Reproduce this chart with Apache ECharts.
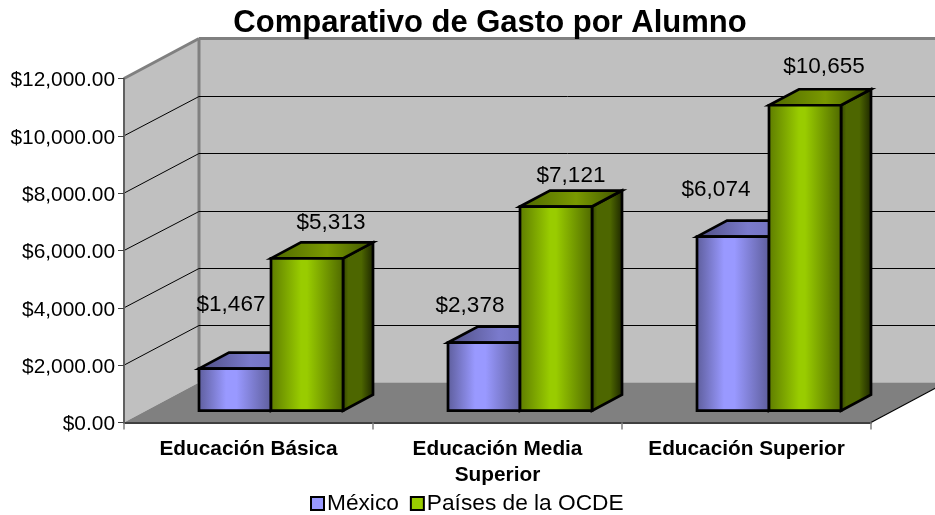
<!DOCTYPE html>
<html><head><meta charset="utf-8">
<style>html,body{margin:0;padding:0;background:#fff}#c{width:935px;height:515px}</style>
<script src="https://cdn.jsdelivr.net/npm/echarts@6/dist/echarts.min.js"></script>
</head><body><div id="c"></div>
<script>
const categories = ['Educación Básica', 'Educación Media\nSuperior', 'Educación Superior'];
const mexico = [1467, 2378, 6074];
const ocde = [5313, 7121, 10655];
const yTicks = [0, 2000, 4000, 6000, 8000, 10000, 12000];

// 3D projection and label placement
const WALL = [75, -40], FRONT = [22.5, -11.8], DEPTH = [30, -16];
const BAR_W = 72;
const NUDGE_MX = [[-4, -64], [-14, -37], [-17, -47]];
const NUDGE_OC = [[24, -36], [15, -31], [19, -38]];

const grad = (stops) => ({type:'linear',x:0,y:0,x2:1,y2:0,colorStops:stops.map(([offset,color])=>({offset,color}))});
const PAL = {
  mx: {front: grad([[0,'#5c5c99'],[0.38,'#9999ff'],[0.52,'#9999ff'],[1,'#5c5c99']]), top: grad([[0,'#4d4d80'],[0.5,'#7a7acc'],[1,'#6b6bb3']]), side: grad([[0,'#33334d'],[0.2,'#4d4d80'],[0.6,'#4d4d80'],[1,'#1a1a2b']])},
  oc: {front: grad([[0,'#5c7a00'],[0.42,'#99cc00'],[0.5,'#99cc00'],[1,'#4d6600']]), top: grad([[0,'#4d6600'],[0.55,'#7a9900'],[1,'#3d5200']]), side: grad([[0,'#2e3d00'],[0.2,'#4d6600'],[0.6,'#4d6600'],[1,'#1a2200']])}
};
const poly = (pts, style, z2) => ({type:'polygon', shape:{points:pts}, style, z2});
const line = (a, b, stroke, w) => ({type:'line', shape:{x1:a[0],y1:a[1],x2:b[0],y2:b[1]}, style:{stroke,lineWidth:w}});

function renderWalls(p, api) {
  const band = api.size([1,0])[0];
  const [lx, by] = api.coord([0, 0]); const L = lx - band/2;
  const R = api.coord([2, 0])[0] + band/2;
  const ty = api.coord([0, 12000])[1];
  const g = '#808080';
  return {type:'group', children:[
    poly([[L+WALL[0],ty+WALL[1]],[R+WALL[0],ty+WALL[1]],[R+WALL[0],by+WALL[1]],[L+WALL[0],by+WALL[1]]], {fill:'#c0c0c0'}),
    poly([[L,ty],[L+WALL[0],ty+WALL[1]],[L+WALL[0],by+WALL[1]],[L,by]], {fill:'#c0c0c0'}),
    poly([[L,by],[R,by],[R+WALL[0],by+WALL[1]],[L+WALL[0],by+WALL[1]]], {fill:'#808080'}),
    line([L,ty],[L+WALL[0],ty+WALL[1]], g, 3),
    line([L+WALL[0],ty+WALL[1]],[R+WALL[0],ty+WALL[1]], g, 3),
    line([L+WALL[0],ty+WALL[1]],[L+WALL[0],by+WALL[1]], g, 3),
    line([R,by],[R+WALL[0],by+WALL[1]], '#000', 1.2)
  ]};
}
function renderGrid(p, api) {
  const v = api.value(0);
  if (v === 0 || v === 12000) return null;
  const band = api.size([1,0])[0];
  const [lx, y] = api.coord([0, v]); const L = lx - band/2;
  const R = api.coord([2, v])[0] + band/2;
  const yy = Math.round(y + WALL[1]) + 0.5;
  return {type:'group', children:[
    line([L, y],[L+WALL[0], yy], '#000', 1),
    line([L+WALL[0], yy],[R+WALL[0], yy], '#000', 1)
  ]};
}
function makeBar(pal, side, nudges) {
  return function (p, api) {
    const i = api.value(0), v = api.value(1);
    const [cx, y] = api.coord([i, v]);
    const y0 = api.coord([i, 0])[1];
    const x1 = cx + FRONT[0] + (side < 0 ? -BAR_W : 0), x2 = x1 + BAR_W;
    const top = y + FRONT[1], bot = y0 + FRONT[1];
    const s = {stroke:'#000', lineWidth:2.7, lineJoin:'miter'};
    const dx = DEPTH[0], dy = DEPTH[1];
    return {type:'group', children:[
      poly([[x2,top],[x2+dx,top+dy],[x2+dx,bot+dy],[x2,bot]], {...s, fill:pal.side}),
      poly([[x1,top],[x1+dx,top+dy],[x2+dx,top+dy],[x2,top]], {...s, fill:pal.top}),
      poly([[x1,top],[x2,top],[x2,bot],[x1,bot]], {...s, fill:pal.front}),
      {type:'text', z2:50, style:{
        text:'$'+v.toLocaleString('en-US'),
        x:(x1+x2)/2+nudges[i][0], y:top+nudges[i][1],
        fill:'#000', font:'22.5px "Liberation Sans"', textAlign:'center', textVerticalAlign:'middle'
      }}
    ]};
  };
}
const chart = echarts.init(document.getElementById('c'));
chart.setOption({
  animation:false,
  textStyle:{fontFamily:'"Liberation Sans"'},
  title:{text:'Comparativo de Gasto por Alumno', left:485, top:3, textAlign:'center',
    textStyle:{fontFamily:'"Liberation Sans"',fontSize:31,fontWeight:'bold',color:'#000'}},
  legend:{data:[{name:'México'},{name:'Países de la OCDE'}], left:305, top:487, icon:'rect',
    itemWidth:13, itemHeight:13, itemGap:11,
    itemStyle:{borderColor:'#000',borderWidth:2},
    textStyle:{fontFamily:'"Liberation Sans"',fontSize:22.7,color:'#000',padding:[0,0,0,-2]}},
  grid:{left:124, right:64, top:78.5, bottom:92.5},
  xAxis:{type:'category', data:categories, z:5,
    axisLine:{lineStyle:{color:'#404040',width:2}},
    axisTick:{show:true,alignWithLabel:false,length:7,lineStyle:{color:'#808080',width:1.5}},
    axisLabel:{fontFamily:'"Liberation Sans"',fontSize:20.8,fontWeight:'bold',color:'#000',margin:14,lineHeight:26,interval:0}},
  yAxis:{type:'value', min:0, max:12000, interval:2000, z:5,
    axisLine:{show:true,lineStyle:{color:'#606060',width:2}},
    axisTick:{show:true,length:6,lineStyle:{color:'#404040',width:1}},
    splitLine:{show:false},
    axisLabel:{fontFamily:'"Liberation Sans"',fontSize:20.9,color:'#000',margin:9,padding:[4,0,0,0],verticalAlign:'middle',lineHeight:21,
      rich:{},
      formatter:v=>'$'+v.toLocaleString('en-US',{minimumFractionDigits:2,maximumFractionDigits:2})}},
  series:[
    {type:'custom', name:'walls', z:1, silent:true, renderItem:renderWalls, data:[[0]]},
    {type:'custom', name:'gridlines', z:1, silent:true, renderItem:renderGrid, data:yTicks.map(v=>[v]), encode:{x:[],y:[]}},
    {type:'custom', name:'México', z:2, renderItem:makeBar(PAL.mx,-1,NUDGE_MX), itemStyle:{color:'#9999ff'},
      data:mexico.map((v,i)=>[i,v]), encode:{x:0,y:1}},
    {type:'custom', name:'Países de la OCDE', z:3, renderItem:makeBar(PAL.oc,1,NUDGE_OC), itemStyle:{color:'#99cc00'},
      data:ocde.map((v,i)=>[i,v]), encode:{x:0,y:1}}
  ]
});
</script></body></html>
